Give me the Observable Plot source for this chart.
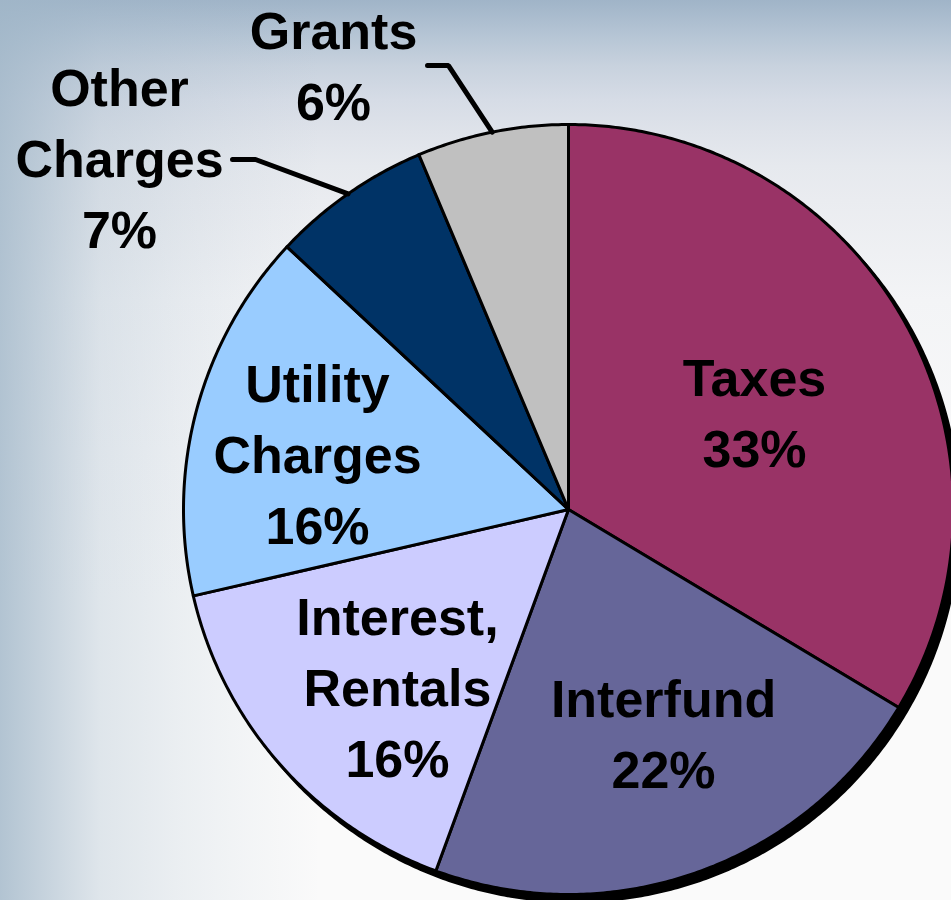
<!DOCTYPE html>
<html>
<head>
<meta charset="utf-8">
<script src="https://cdn.jsdelivr.net/npm/d3@7"></script>
<script src="https://cdn.jsdelivr.net/npm/@observablehq/plot@0.6"></script>
<style>
  html, body { margin: 0; padding: 0; }
  body {
    width: 951px; height: 900px; overflow: hidden;
    background:
      linear-gradient(to right, rgba(160,182,200,0.8) 0px, rgba(160,182,200,0.3) 100px, rgba(160,182,200,0.17) 180px, rgba(160,182,200,0.09) 240px, rgba(160,182,200,0) 320px),
      linear-gradient(to bottom, #a0b4c8 0px, #b4c4d4 33px, #c8d2de 66px, #d6dce6 100px, #dfe3ea 133px, #e6e9ee 166px, #eaecf0 200px, #f3f4f6 300px, #f8f8f9 450px, #fafafa 600px);
  }
  #chart svg { display: block; }
</style>
</head>
<body>
<div id="chart"></div>
<script>
// ---- data ----
const categories = ["Taxes", "Interfund", "Interest, Rentals", "Utility Charges", "Other Charges", "Grants"];
const values = [33.6, 22.0, 15.8, 15.55, 6.7, 6.35];
const pctLabels = ["33%", "22%", "16%", "16%", "7%", "6%"];
const colors = ["#993366", "#666699", "#CCCCFF", "#99CCFF", "#003366", "#C0C0C0"];

// ---- layout (radius units, relative to the pie centre) ----
const W = 951, H = 900, R = 385, CX = 568, CY = 509;
const labelX = [0.4831, 0.2468, -0.4442, -0.6519, -1.1662, -0.6104];
const labelY = [0.2611, -0.5727, -0.4506, 0.1546, 0.9234, 1.1624];
const leaderCats = ["Other Charges", "Grants"];
const leaderElbowX = [-0.8130, -0.3117];
const leaderEndX = [-0.8727, -0.3662];
const leaderY = [0.9091, 1.1532];

// ---- build geometry from the data ----
const arcs = d3.pie().sort(null).value(d => d)(values);
const slicePts = [];
arcs.forEach((a, i) => {
  const n = Math.max(4, Math.ceil((a.endAngle - a.startAngle) / (2 * Math.PI) * 720));
  slicePts.push({cat: categories[i], x: 0, y: 0});
  for (let k = 0; k <= n; k++) {
    const t = a.startAngle + (a.endAngle - a.startAngle) * k / n;
    slicePts.push({cat: categories[i], x: Math.sin(t), y: Math.cos(t)});
  }
  slicePts.push({cat: categories[i], x: 0, y: 0});
});
const shadowPts = d3.range(0, 721).map(k => {
  const t = 2 * Math.PI * k / 720;
  return {x: Math.sin(t), y: Math.cos(t)};
});
const labels = categories.map((c, i) => ({
  cat: c, x: labelX[i], y: labelY[i],
  text: c.replace(" ", "\n") + "\n" + pctLabels[i]
}));
const leaderPts = [];
leaderCats.forEach((c, j) => {
  const a = arcs[categories.indexOf(c)];
  const m = (a.startAngle + a.endAngle) / 2;
  leaderPts.push({cat: c, x: Math.sin(m), y: Math.cos(m)});
  leaderPts.push({cat: c, x: leaderElbowX[j], y: leaderY[j]});
  leaderPts.push({cat: c, x: leaderEndX[j], y: leaderY[j]});
});

const chart = Plot.plot({
  width: W, height: H, margin: 0,
  style: {background: "transparent", overflow: "hidden"},
  x: {domain: [-CX / R, (W - CX) / R], axis: null},
  y: {domain: [-(H - CY) / R, CY / R], axis: null},
  color: {domain: categories, range: colors},
  marks: [
    Plot.line(shadowPts, {x: "x", y: "y", fill: "black", stroke: "black", strokeWidth: 3, dx: 6, dy: 7}),
    Plot.line(slicePts, {x: "x", y: "y", z: "cat", fill: "cat", stroke: "black", strokeWidth: 3, strokeLinejoin: "round"}),
    Plot.line(leaderPts, {x: "x", y: "y", z: "cat", stroke: "black", strokeWidth: 5, strokeLinecap: "round", strokeLinejoin: "miter"}),
    Plot.text(labels, {x: "x", y: "y", text: "text", fill: "black", fontSize: 52, fontWeight: "bold",
      fontFamily: "'Liberation Sans', Arial, sans-serif", lineHeight: 1.37, textAnchor: "middle"})
  ]
});
document.getElementById("chart").appendChild(chart);
</script>
</body>
</html>
